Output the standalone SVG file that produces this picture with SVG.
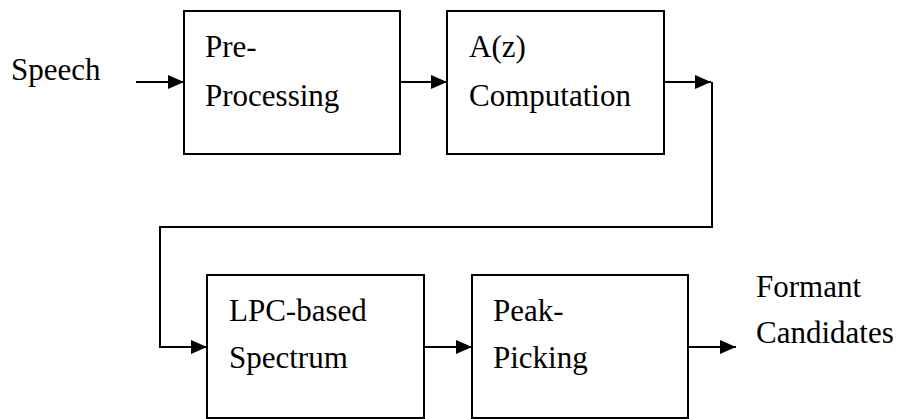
<svg xmlns="http://www.w3.org/2000/svg" width="901" height="419" viewBox="0 0 901 419">
<style>
.box{fill:#fff;stroke:#000;stroke-width:2}
.ln{fill:none;stroke:#000;stroke-width:2}
.t{font-family:serif;font-size:31px;fill:#000}
</style>
<defs>
<marker id="ah" markerUnits="userSpaceOnUse" markerWidth="16" markerHeight="14" refX="16" refY="7" orient="auto">
<path d="M0,0 L16,7 L0,14 Z" fill="#000"/>
</marker>
</defs>
<rect width="901" height="419" fill="#fff"/>
<text class="t" x="11" y="80">Speech</text>
<g id="pre">
<rect class="box" x="184" y="11" width="216" height="143"/>
<text class="t" x="205" y="57">Pre-</text>
<text class="t" x="205" y="106">Processing</text>
</g>
<g id="az">
<rect class="box" x="447" y="11" width="217" height="143"/>
<text class="t" x="469" y="57">A(z)</text>
<text class="t" x="469" y="106">Computation</text>
</g>
<g id="lpc">
<rect class="box" x="207" y="275" width="217" height="143"/>
<text class="t" x="229" y="321">LPC-based</text>
<text class="t" x="229" y="368">Spectrum</text>
</g>
<g id="peak">
<rect class="box" x="472" y="275" width="216" height="143"/>
<text class="t" x="493" y="321">Peak-</text>
<text class="t" x="493" y="368">Picking</text>
</g>
<text class="t" x="756" y="297">Formant</text>
<text class="t" x="756" y="343">Candidates</text>
<g id="connectors">
<line class="ln" x1="136" y1="82" x2="184" y2="82" marker-end="url(#ah)"/>
<line class="ln" x1="400" y1="82" x2="447" y2="82" marker-end="url(#ah)"/>
<line class="ln" x1="664" y1="82" x2="711" y2="82" marker-end="url(#ah)"/>
<polyline class="ln" points="712,82 712,227 160,227 160,347 207,347" marker-end="url(#ah)"/>
<line class="ln" x1="424" y1="347" x2="472" y2="347" marker-end="url(#ah)"/>
<line class="ln" x1="688" y1="347" x2="736" y2="347" marker-end="url(#ah)"/>
</g>
</svg>
